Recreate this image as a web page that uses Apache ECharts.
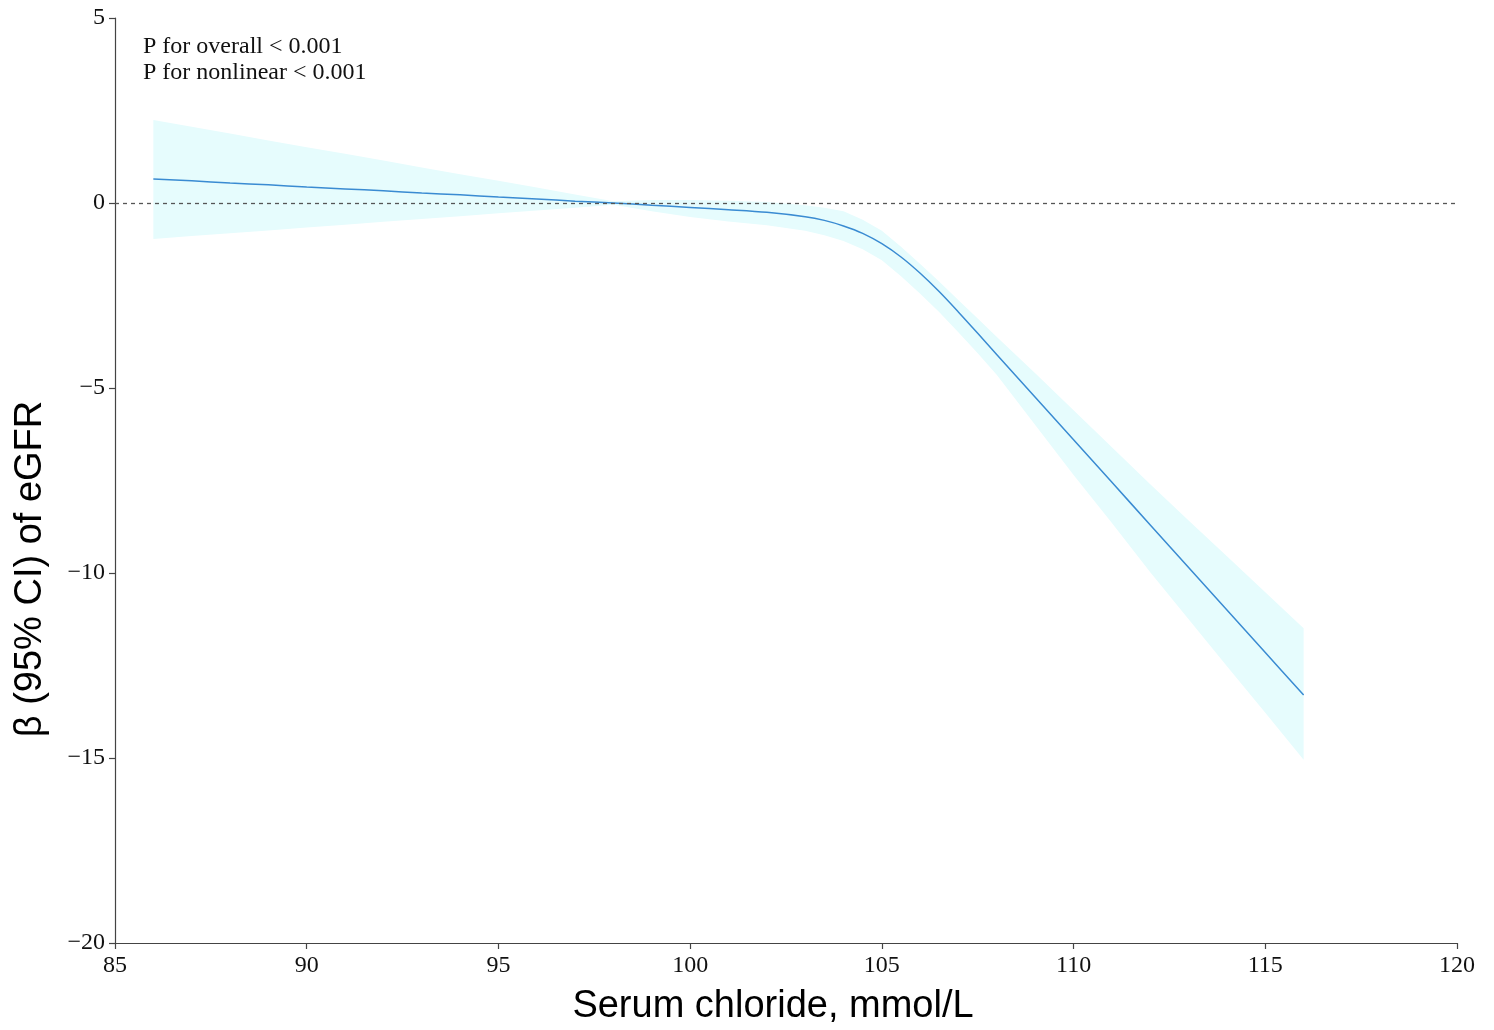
<!DOCTYPE html>
<html>
<head>
<meta charset="utf-8">
<title>Serum chloride vs eGFR</title>
<script src="https://cdn.jsdelivr.net/npm/echarts@6/dist/echarts.min.js"></script>
<style>
  html, body { margin: 0; padding: 0; background: #fff; }
  #main { width: 1494px; height: 1030px; }
</style>
</head>
<body>
<div id="main"></div>
<script>
// chloride values (mmol/L)
var chloride = [86, 87, 88, 89, 90, 91, 92, 93, 94, 95, 96, 97, 98, 99, 100, 101, 102, 103, 103.5, 104, 104.5, 105, 105.5, 106, 106.5, 107, 107.5, 108, 109, 110, 111, 112, 113, 114, 115, 116];
// beta estimate
var beta = [0.65, 0.60, 0.54, 0.49, 0.43, 0.38, 0.33, 0.27, 0.22, 0.16, 0.11, 0.05, 0.00, -0.06, -0.12, -0.18, -0.25, -0.37, -0.47, -0.62, -0.82, -1.10, -1.46, -1.90, -2.40, -2.95, -3.52, -4.10, -5.25, -6.40, -7.55, -8.70, -9.85, -11.0, -12.15, -13.3];
// 95% CI
var upper = [2.24, 2.06, 1.88, 1.69, 1.51, 1.33, 1.15, 0.96, 0.78, 0.60, 0.42, 0.23, 0.05, 0.08, 0.08, 0.06, 0.03, -0.06, -0.13, -0.22, -0.45, -0.75, -1.18, -1.65, -2.13, -2.63, -3.12, -3.62, -4.60, -5.60, -6.60, -7.60, -8.58, -9.55, -10.52, -11.49];
var lower = [-0.97, -0.89, -0.82, -0.74, -0.66, -0.59, -0.51, -0.43, -0.36, -0.28, -0.20, -0.13, -0.05, -0.22, -0.38, -0.50, -0.60, -0.75, -0.87, -1.03, -1.25, -1.55, -1.98, -2.45, -2.95, -3.50, -4.06, -4.65, -6.00, -7.35, -8.65, -9.98, -11.25, -12.52, -13.78, -15.05];

var pText = ['P for overall < 0.001', 'P for nonlinear < 0.001'];

var lineData = chloride.map(function (x, i) { return [x, beta[i]]; });
var bandData = chloride.map(function (x, i) { return [x, lower[i], upper[i]]; });

var serif = '"Liberation Serif", "DejaVu Serif", serif';
var sans = '"Liberation Sans", Arial, sans-serif';

var chart = echarts.init(document.getElementById('main'));

var option = {
  animation: false,
  grid: { left: 115, right: 37, top: 18, bottom: 87 },
  xAxis: {
    type: 'value',
    min: 85,
    max: 120,
    interval: 5,
    splitLine: { show: false },
    axisLine: { onZero: false, lineStyle: { color: '#444', width: 1.2 } },
    axisTick: { length: 6, lineStyle: { color: '#444', width: 1.2 } },
    axisLabel: { color: '#111', fontFamily: serif, fontSize: 24, margin: 11 }
  },
  yAxis: {
    type: 'value',
    min: -20,
    max: 5,
    interval: 5,
    splitLine: { show: false },
    axisLine: { show: true, onZero: false, lineStyle: { color: '#444', width: 1.2 } },
    axisTick: { show: true, length: 6, lineStyle: { color: '#444', width: 1.2 } },
    axisLabel: {
      color: '#111', fontFamily: serif, fontSize: 24, margin: 10,
      formatter: function (v) { return String(v).replace('-', '\u2212'); }
    }
  },
  graphic: [
    {
      type: 'text', left: 143, top: 34,
      style: { text: pText.join('\n'), fill: '#111', font: '24px ' + serif, lineHeight: 26 }
    },
    {
      type: 'text', x: 773, y: 1007,
      style: { text: 'Serum chloride, mmol/L', fill: '#000', font: '38px ' + sans, align: 'center', verticalAlign: 'middle' }
    },
    {
      type: 'text', x: 31, y: 569, rotation: Math.PI / 2,
      style: { text: '\u03b2 (95% CI) of eGFR', fill: '#000', font: '38px ' + sans, align: 'center', verticalAlign: 'middle' }
    }
  ],
  series: [
    {
      // confidence band drawn as one polygon through the axis scales
      name: '95% CI',
      type: 'custom',
      data: bandData,
      encode: { x: 0, y: [1, 2] },
      silent: true,
      z: 1,
      renderItem: function (params, api) {
        if (params.dataIndex !== 0) return;
        var pts = [];
        for (var i = 0; i < chloride.length; i++) {
          pts.push(api.coord([chloride[i], upper[i]]));
        }
        for (var j = chloride.length - 1; j >= 0; j--) {
          pts.push(api.coord([chloride[j], lower[j]]));
        }
        return {
          type: 'polygon',
          shape: { points: pts },
          style: { fill: '#e6fcfd' }
        };
      }
    },
    {
      name: 'beta',
      type: 'line',
      data: lineData,
      smooth: 0.3,
      symbol: 'none',
      lineStyle: { color: '#3a8bd2', width: 1.5 },
      markLine: {
        silent: true,
        symbol: 'none',
        label: { show: false },
        lineStyle: { color: '#555', type: [4, 4], width: 1.3 },
        data: [{ yAxis: 0 }]
      },
      z: 3
    }
  ]
};

chart.setOption(option);
</script>
</body>
</html>
